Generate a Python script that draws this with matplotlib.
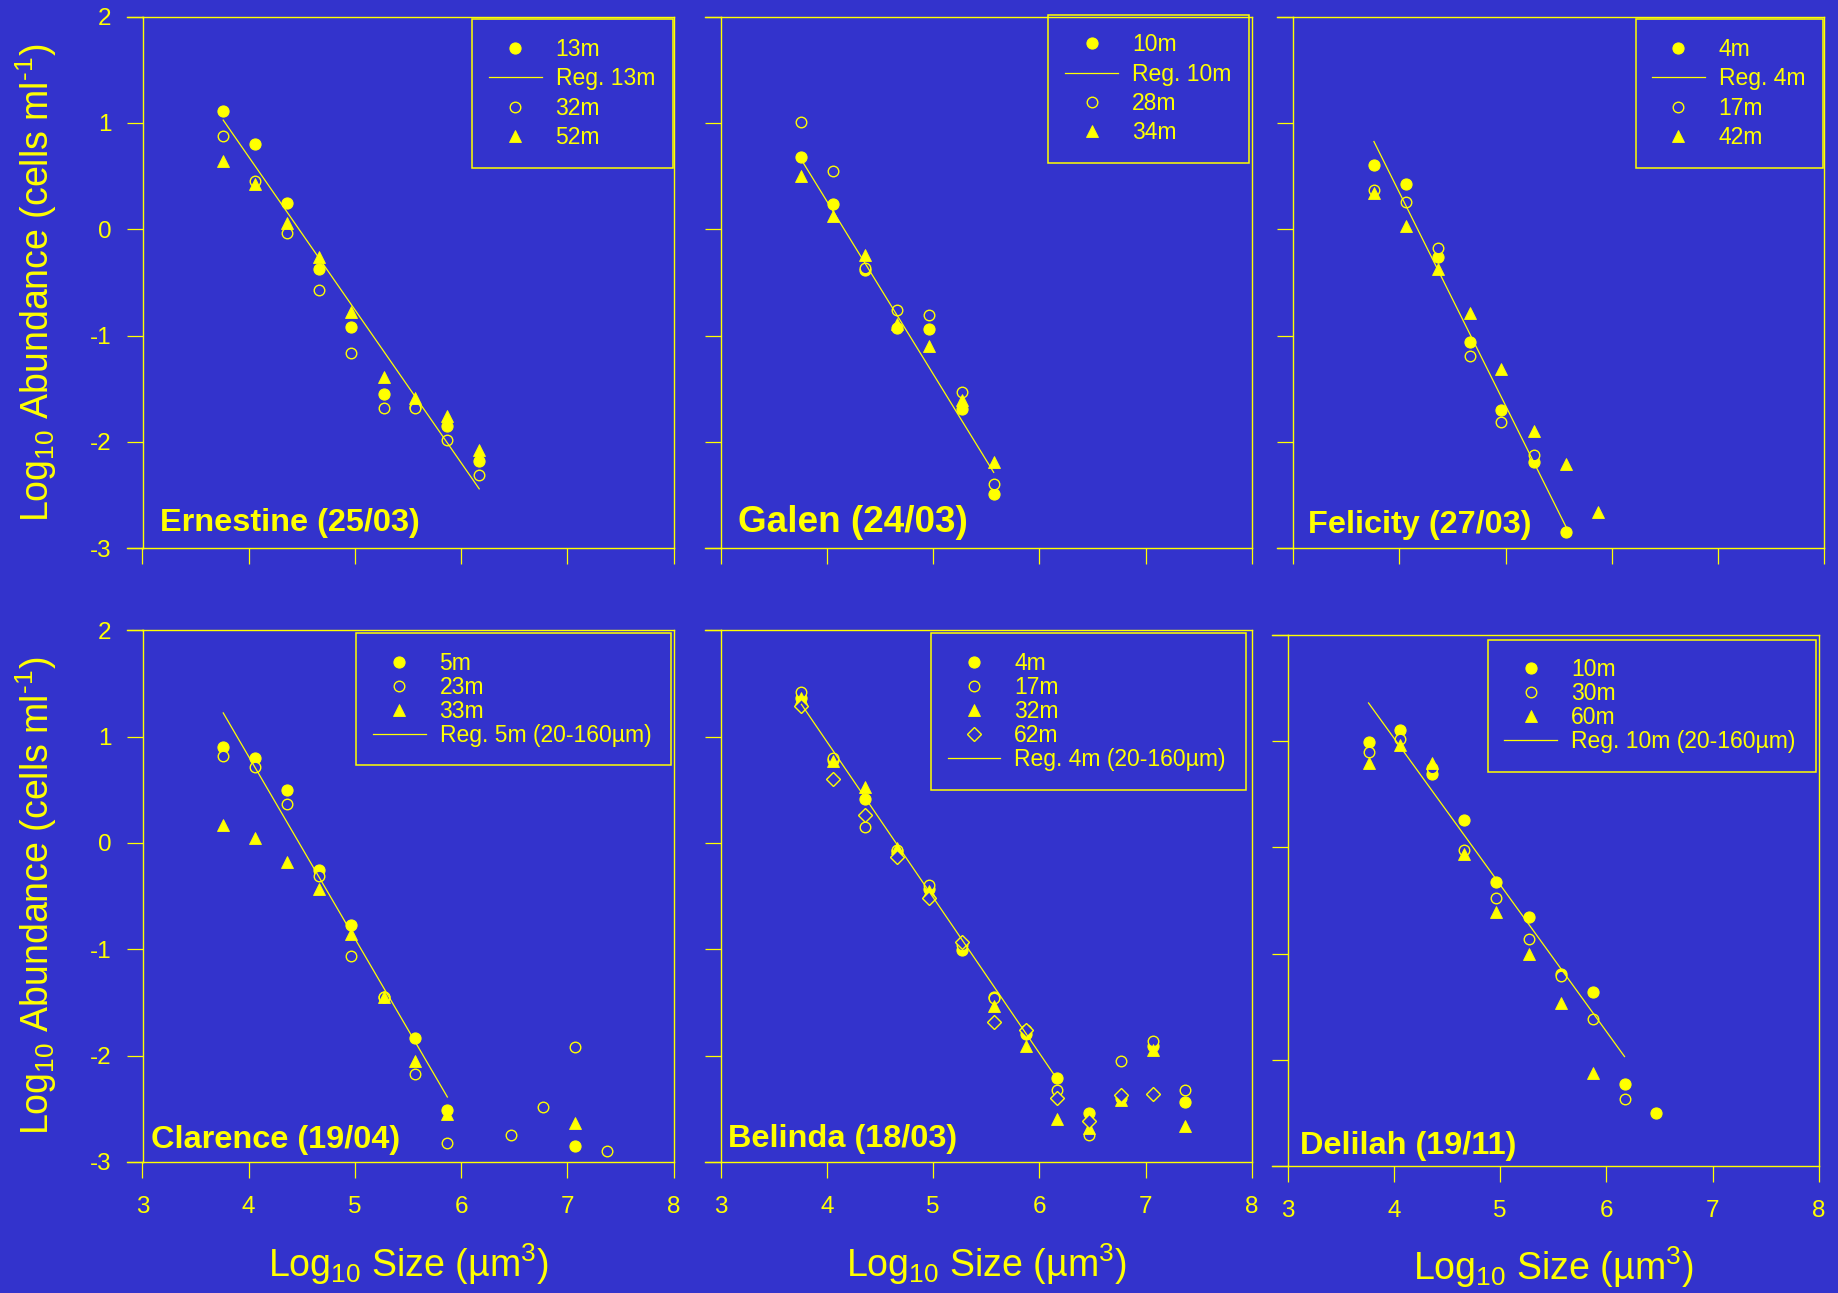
import matplotlib
matplotlib.use("Agg")
import matplotlib.pyplot as plt
from matplotlib.patches import Rectangle

plt.rcParams["font.family"] = ["Liberation Sans", "DejaVu Sans"]
plt.rcParams["mathtext.fontset"] = "custom"
plt.rcParams["mathtext.rm"] = "Liberation Sans"
plt.rcParams["mathtext.it"] = "Liberation Sans:italic"
plt.rcParams["mathtext.bf"] = "Liberation Sans:bold"
plt.rcParams["axes.unicode_minus"] = False

BG = "#3333CC"
FG = "#FFFF00"
W, H = 1838, 1293

# ---------------------------------------------------------------- data
# log10 cell volume of the size classes (doubling bins)
size_classes = [3.76, 4.06, 4.36, 4.66, 4.96, 5.27, 5.57, 5.87, 6.17, 6.47, 6.77, 7.07, 7.37]
x_ticks = [3, 4, 5, 6, 7, 8]
y_ticks = [-3, -2, -1, 0, 1, 2]

# Ernestine (25/03)
ern_x = size_classes[:9]
ern_13m = [1.11, 0.80, 0.25, -0.37, -0.92, -1.55, -1.67, -1.85, -2.18]
ern_32m = [0.88, 0.45, -0.04, -0.57, -1.16, -1.68, -1.68, -1.98, -2.31]
ern_52m = [0.64, 0.43, 0.06, -0.26, -0.78, -1.39, -1.59, -1.76, -2.08]
ern_reg = (-1.439, 6.437, 3.76, 6.17)   # slope, intercept, x from, x to

# Galen (24/03)
gal_x = size_classes[:7]
gal_10m = [0.68, 0.24, -0.38, -0.93, -0.94, -1.69, -2.49]
gal_28m = [1.01, 0.55, -0.36, -0.76, -0.81, -1.53, -2.40]
gal_34m = [0.50, 0.12, -0.24, -0.89, -1.10, -1.61, -2.19]
gal_reg = (-1.624, 6.759, 3.76, 5.57)

# Felicity (27/03)
fel_4m_x = size_classes[:7]
fel_4m = [0.60, 0.43, -0.26, -1.06, -1.70, -2.19, -2.85]
fel_17m_x = size_classes[:6]
fel_17m = [0.37, 0.26, -0.18, -1.19, -1.81, -2.12]
fel_42m_x = size_classes[:8]
fel_42m = [0.34, 0.03, -0.37, -0.79, -1.31, -1.90, -2.21, -2.66]
fel_reg = (-2.004, 8.360, 3.76, 5.57)

# Clarence (19/04)
cla_5m_x = [3.76, 4.06, 4.36, 4.66, 4.96, 5.27, 5.57, 5.87, 7.07]
cla_5m = [0.90, 0.80, 0.50, -0.25, -0.77, -1.45, -1.83, -2.51, -2.85]
cla_23m_x = [3.76, 4.06, 4.36, 4.66, 4.96, 5.27, 5.57, 5.87, 6.47, 6.77, 7.07, 7.37]
cla_23m = [0.82, 0.71, 0.37, -0.31, -1.06, -1.45, -2.17, -2.82, -2.75, -2.48, -1.92, -2.90]
cla_33m_x = [3.76, 4.06, 4.36, 4.66, 4.96, 5.27, 5.57, 5.87, 7.07]
cla_33m = [0.17, 0.05, -0.18, -0.43, -0.86, -1.45, -2.05, -2.55, -2.63]
cla_reg = (-1.712, 7.660, 3.76, 5.87)

# Belinda (18/03)
bel_x = size_classes
bel_4m = [1.36, 0.78, 0.41, -0.08, -0.43, -1.01, -1.45, -1.80, -2.21, -2.54, -2.40, -1.91, -2.44]
bel_17m = [1.42, 0.80, 0.15, -0.07, -0.40, -0.96, -1.46, -1.76, -2.32, -2.75, -2.05, -1.86, -2.32]
bel_32m_x = [3.76, 4.06, 4.36, 4.66, 4.96, 5.57, 5.87, 6.17, 6.47, 6.77, 7.07, 7.37]
bel_32m = [1.36, 0.77, 0.53, -0.05, -0.45, -1.53, -1.91, -2.60, -2.68, -2.42, -1.95, -2.66]
bel_62m_x = size_classes[:12]
bel_62m = [1.29, 0.60, 0.26, -0.13, -0.52, -0.93, -1.68, -1.76, -2.40, -2.62, -2.37, -2.36]
bel_reg = (-1.4645, 6.810, 3.76, 6.17)

# Delilah (19/11)
del_10m_x = size_classes[:10]
del_10m = [0.99, 1.10, 0.69, 0.26, -0.33, -0.66, -1.19, -1.36, -2.23, -2.50]
del_30m_x = size_classes[:9]
del_30m = [0.90, 1.02, 0.75, -0.03, -0.48, -0.86, -1.21, -1.62, -2.37]
del_60m_x = size_classes[:8]
del_60m = [0.79, 0.96, 0.79, -0.06, -0.61, -1.00, -1.47, -2.12]
del_reg = (-1.381, 6.551, 3.76, 6.17)

# ---------------------------------------------------------------- styles
STYLES = {
    "filled": dict(marker="o", ms=8, mfc=FG, mec=FG, mew=0.8),
    "open": dict(marker="o", ms=7.6, mfc=BG, mec=FG, mew=1.0),
    "tri": dict(marker="^", ms=8, mfc=FG, mec=FG, mew=0.6),
    "diamond": dict(marker="D", ms=6.8, mfc=BG, mec=FG, mew=1.0),
}


def fx(px):
    return px / W


def fy(py):
    return 1 - py / H


panels = [
    dict(rect=(142.5, 16.6, 673.6, 548.2),
         series=[("13m", ern_x, ern_13m, "filled"), ("32m", ern_x, ern_32m, "open"),
                 ("52m", ern_x, ern_52m, "tri")],
         reg=("Reg. 13m", ern_reg), order=[0, "reg", 1, 2],
         box=(472.1, 19.2, 672.9, 167.6), leg=(488.9, 49.2, 29.5),
         title="Ernestine (25/03)", tpos=(160.4, 531.5), tsize=23.4,
         xlab=False, ylab=True),
    dict(rect=(720.7, 16.6, 1251.8, 548.2),
         series=[("10m", gal_x, gal_10m, "filled"), ("28m", gal_x, gal_28m, "open"),
                 ("34m", gal_x, gal_34m, "tri")],
         reg=("Reg. 10m", gal_reg), order=[0, "reg", 1, 2],
         box=(1048.2, 14.8, 1249.3, 162.8), leg=(1065.4, 44.4, 29.6),
         title="Galen (24/03)", tpos=(737.5, 531.5), tsize=26.6,
         xlab=False, ylab=False),
    dict(rect=(1293.2, 16.6, 1824.3, 548.2),
         series=[("4m", fel_4m_x, fel_4m, "filled"), ("17m", fel_17m_x, fel_17m, "open"),
                 ("42m", fel_42m_x, fel_42m, "tri")],
         reg=("Reg. 4m", fel_reg), order=[0, "reg", 1, 2],
         box=(1635.9, 19.2, 1822.7, 167.6), leg=(1651.9, 49.2, 29.6),
         title="Felicity (27/03)", tpos=(1307.8, 532.7), tsize=23.4,
         xlab=False, ylab=False),
    dict(rect=(142.5, 630.3, 673.6, 1161.9),
         series=[("5m", cla_5m_x, cla_5m, "filled"), ("23m", cla_23m_x, cla_23m, "open"),
                 ("33m", cla_33m_x, cla_33m, "tri")],
         reg=("Reg. 5m (20-160µm)", cla_reg), order=[0, 1, 2, "reg"],
         box=(356.1, 632.9, 671.1, 765.4), leg=(372.9, 663.6, 24.1),
         title="Clarence (19/04)", tpos=(151.4, 1148.2), tsize=23.4,
         xlab=True, ylab=True),
    dict(rect=(720.7, 630.3, 1251.8, 1161.9),
         series=[("4m", bel_x, bel_4m, "filled"), ("17m", bel_x, bel_17m, "open"),
                 ("32m", bel_32m_x, bel_32m, "tri"), ("62m", bel_62m_x, bel_62m, "diamond")],
         reg=("Reg. 4m (20-160µm)", bel_reg), order=[0, 1, 2, 3, "reg"],
         box=(931.1, 633.3, 1245.7, 790.1), leg=(947.5, 663.6, 24.05),
         title="Belinda (18/03)", tpos=(727.9, 1147.1), tsize=23.4,
         xlab=True, ylab=False),
    dict(rect=(1287.8, 634.8, 1818.9, 1166.0),
         series=[("10m", del_10m_x, del_10m, "filled"), ("30m", del_30m_x, del_30m, "open"),
                 ("60m", del_60m_x, del_60m, "tri")],
         reg=("Reg. 10m (20-160µm)", del_reg), order=[0, 1, 2, "reg"],
         box=(1487.5, 639.6, 1816.3, 772.0), leg=(1504.2, 669.2, 24.3),
         title="Delilah (19/11)", tpos=(1299.6, 1153.8), tsize=23.4,
         xlab=True, ylab=False),
]

LEG_FS = 16.5
LEG_TEXT_H = 1.01  # legend row text height, in font-size units

fig = plt.figure(figsize=(W / 100, H / 100), dpi=100, facecolor=BG)

for p in panels:
    l, t, r, b = p["rect"]
    ax = fig.add_axes([fx(l), fy(b), (r - l) / W, (b - t) / H], facecolor=BG)
    ax.set_xlim(3, 8)
    ax.set_ylim(-3, 2)
    ax.set_xticks(x_ticks)
    ax.set_yticks(y_ticks)
    for s in ax.spines.values():
        s.set_color(FG)
        s.set_linewidth(1.0)
    ax.tick_params(direction="out", length=11.5, width=0.9, color=FG,
                   labelcolor=FG, labelsize=17.5)
    ax.tick_params(axis="x", pad=13, labelbottom=p["xlab"])
    ax.tick_params(axis="y", pad=11, labelleft=p["ylab"])

    # frame lines run out past the left edge, as far as the y ticks
    ext = 16.0 / (r - l)
    for yy in (0, 1):
        ax.plot([-ext, 0], [yy, yy], transform=ax.transAxes, clip_on=False,
                color=FG, lw=1.0)

    handles = []
    for label, xs, ys, st in p["series"]:
        h, = ax.plot(xs, ys, ls="none", label=label, **STYLES[st])
        handles.append(h)

    reg_label, (slope, icpt, x0, x1) = p["reg"]
    rh, = ax.plot([x0, x1], [icpt + slope * x0, icpt + slope * x1],
                  color=FG, lw=0.9, label=reg_label)

    ordered = [rh if k == "reg" else handles[k] for k in p["order"]]
    hx, row1, sp = p["leg"]
    n = len(ordered)
    ls = (sp - LEG_TEXT_H * LEG_FS * 100 / 72) / (LEG_FS * 100 / 72)
    ax.legend(handles=ordered, loc="center left",
              bbox_to_anchor=(fx(hx), fy(row1 + (n - 1) * sp / 2)),
              bbox_transform=fig.transFigure, frameon=False, borderpad=0,
              borderaxespad=0, fontsize=LEG_FS, labelcolor=FG, numpoints=1,
              handlelength=2.31, handletextpad=0.6, labelspacing=ls)

    bx0, by0, bx1, by1 = p["box"]
    fig.add_artist(Rectangle((fx(bx0), fy(by1)), (bx1 - bx0) / W, (by1 - by0) / H,
                             transform=fig.transFigure, fill=False, ec=FG, lw=1.1))

    tx, ty = p["tpos"]
    fig.text(fx(tx), fy(ty), p["title"], ha="left", va="baseline",
             fontsize=p["tsize"], fontweight="bold", color=FG)

# axis titles
xlabel = r"Log$_{\mathregular{10}}$ Size (µm$^{\mathregular{3}}$)"
ylabel = r"Log$_{\mathregular{10}}$ Abundance (cells ml$^{\text{-1}}$)"
for cx, base in [(408.0, 1276.7), (986.3, 1276.7), (1553.4, 1280.2)]:
    fig.text(fx(cx), fy(base), xlabel, ha="center", va="baseline",
             fontsize=27, color=FG)
for cy in (282.4, 896.1):
    fig.text(fx(36), fy(cy), ylabel, rotation=90, ha="center", va="center",
             fontsize=27, color=FG)

fig.savefig("out.png", dpi=100, facecolor=BG)
